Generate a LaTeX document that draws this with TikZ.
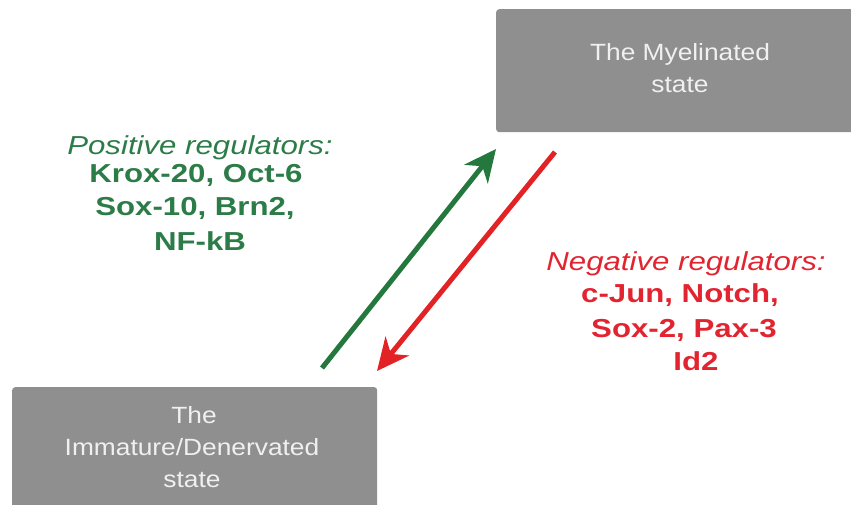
\documentclass[tikz,border=0pt]{standalone}
\usepackage{fontspec}
\setmainfont{Liberation Sans}
\usetikzlibrary{arrows.meta}
\definecolor{boxgray}{RGB}{143,143,143}
\definecolor{boxtext}{RGB}{240,240,240}
\definecolor{posgreen}{RGB}{44,124,72}
\definecolor{neggreen}{RGB}{36,120,62}
\definecolor{negred}{RGB}{226,36,48}
\definecolor{arrred}{RGB}{226,34,36}
\tikzset{
  statebox/.style={fill=boxgray, draw=none, rounded corners=3pt, inner sep=0pt},
  boxlabel/.style={anchor=base, text=boxtext, inner sep=0pt, xscale=1.12,
    font=\fontsize{23.5}{28}\selectfont},
  reghead/.style={anchor=base, inner sep=0pt, xscale=1.2,
    font=\fontsize{26}{30}\selectfont\itshape},
  regline/.style={anchor=base, inner sep=0pt, xscale=1.2,
    font=\fontsize{26}{30}\selectfont\bfseries},
  regarrow/.style={line width=5pt, -{Stealth[length=32pt, width=30pt, inset=10pt]}}
}
\begin{document}
\begin{tikzpicture}[x=1pt, y=-1pt]
\useasboundingbox (0,0) rectangle (851,504);
\clip (0,0) rectangle (851,504);
% state boxes
\node[statebox, minimum width=370pt, minimum height=123pt, anchor=north west] (myel) at (496,9) {};
\node[statebox, minimum width=365pt, minimum height=130pt, anchor=north west] (imm) at (12,387) {};
% box texts
\node[boxlabel] (m1) at (680,60) {The Myelinated};
\node[boxlabel] (m2) at (680,92) {state};
\node[boxlabel] (i1) at (194,423) {The};
\node[boxlabel] (i2) at (192,455) {Immature/Denervated};
\node[boxlabel] (i3) at (192,487) {state};
% positive regulators
\node[reghead, text=posgreen] (p0) at (200,154) {Positive regulators:};
\node[regline, text=posgreen] (p1) at (196,182) {Krox-20, Oct-6};
\node[regline, text=posgreen] (p2) at (195,215) {Sox-10, Brn2,};
\node[regline, text=posgreen] (p3) at (200,250) {NF-kB};
% negative regulators
\node[reghead, text=negred] (n0) at (686,270) {Negative regulators:};
\node[regline, text=negred] (n1) at (680,302) {c-Jun, Notch,};
\node[regline, text=negred] (n2) at (684,337) {Sox-2, Pax-3};
\node[regline, text=negred] (n3) at (696,370) {Id2};
% arrows
\coordinate (gs) at (322,368);
\coordinate (ge) at (496,149);
\coordinate (rs) at (555,152);
\coordinate (re) at (377,371);
\draw[regarrow, draw=neggreen, fill=neggreen] (gs) -- (ge);
\draw[regarrow, draw=arrred, fill=arrred] (rs) -- (re);
\end{tikzpicture}
\end{document}
